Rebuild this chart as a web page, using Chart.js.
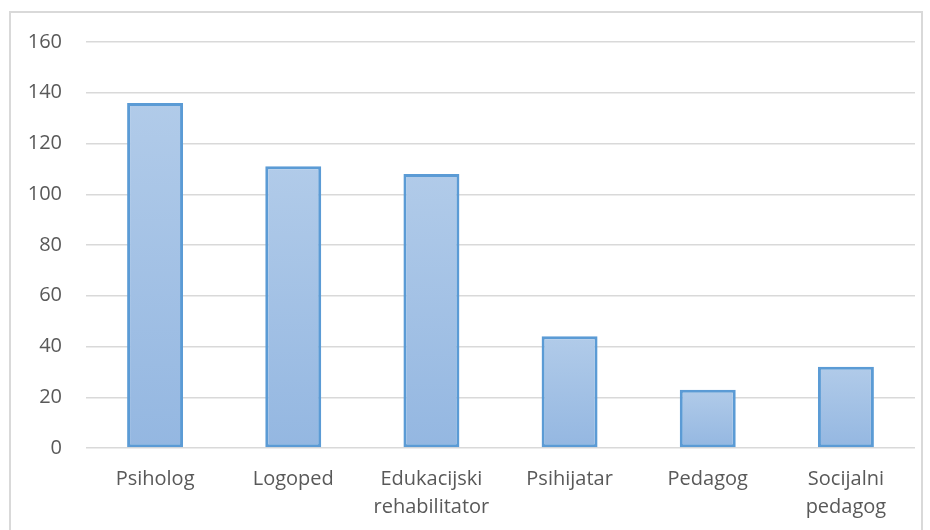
<!DOCTYPE html>
<html>
<head>
<meta charset="utf-8">
<script src="https://cdn.jsdelivr.net/npm/chart.js@4.4.0/dist/chart.umd.min.js"></script>
<style>
  body { margin: 0; background: #fff; }
  #frame {
    position: absolute; left: 9px; top: 11px; width: 914px; height: 540px;
    border: 2px solid #d9d9d9; box-sizing: border-box;
  }
  #wrap { position: absolute; left: 0; top: 0; width: 930px; height: 530px; }
</style>
</head>
<body>
<div id="frame"></div>
<div id="wrap"><canvas id="myChart" width="930" height="530"></canvas></div>
<script>
const categories = ["Psiholog", "Logoped", ["Edukacijski", "rehabilitator"], "Psihijatar", "Pedagog", ["Socijalni", "pedagog"]];
const counts = [136, 111, 108, 44, 23, 32];
const yTicks = [0, 20, 40, 60, 80, 100, 120, 140, 160];

const barFill = context => {
  const chart = context.chart;
  if (!chart.chartArea) return "#a7c3e6";
  const yScale = chart.scales.y;
  const top = yScale.getPixelForValue(context.raw);
  const bottom = yScale.getPixelForValue(0);
  const g = chart.ctx.createLinearGradient(0, top, 0, bottom);
  g.addColorStop(0, "#b1cbe9");
  g.addColorStop(1, "#94b7e1");
  return g;
};

var ctx = document.getElementById("myChart").getContext("2d");
var chart = new Chart(ctx, {
  type: "bar",
  data: {
    labels: categories,
    datasets: [
      {
        data: counts,
        backgroundColor: barFill,
        borderColor: "#5b9bd5",
        borderWidth: 3,
        borderSkipped: false,
        barPercentage: 0.405,
        categoryPercentage: 1
      }
    ]
  },
  options: {
    responsive: false,
    animation: false,
    layout: { padding: { left: 10, right: 15, top: 42, bottom: 0 } },
    plugins: { legend: { display: false }, tooltip: { enabled: false } },
    scales: {
      x: {
        afterFit: axis => {
          axis.height = 82;
        },
        grid: { display: false },
        border: { display: false },
        ticks: {
          color: "#595959",
          font: { family: "Open Sans", size: 20, lineHeight: 1.4 },
          padding: 9,
          maxRotation: 0,
          autoSkip: false
        }
      },
      y: {
        min: 0,
        max: 160,
        afterBuildTicks: axis => {
          axis.ticks = yTicks.map(v => ({ value: v }));
        },
        afterFit: axis => {
          axis.width = 76;
        },
        grid: { color: "#d9d9d9", lineWidth: 1.5, drawTicks: false },
        border: { display: false },
        ticks: {
          color: "#595959",
          font: { family: "Open Sans", size: 20 },
          padding: 24
        }
      }
    }
  }
});
</script>
</body>
</html>
